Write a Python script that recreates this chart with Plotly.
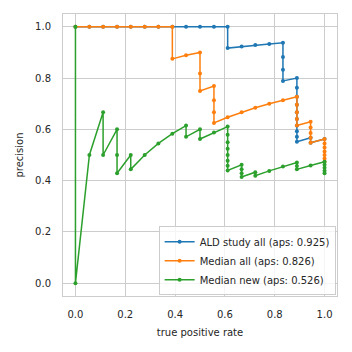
import plotly.graph_objects as go

# ALD study all
ald_recall = [0.0, 0.056, 0.111, 0.167, 0.222, 0.278, 0.333, 0.389, 0.444, 0.5, 0.556, 0.611,
              0.611, 0.667, 0.722, 0.778, 0.833, 0.833, 0.833, 0.833, 0.889,
              0.889, 0.889, 0.889, 0.889, 0.889, 0.889, 0.889, 0.889, 0.889,
              0.944, 0.944, 1.0]
ald_precision = [1.0, 1.0, 1.0, 1.0, 1.0, 1.0, 1.0, 1.0, 1.0, 1.0, 1.0, 1.0,
                 0.917, 0.923, 0.929, 0.933, 0.9375, 0.882, 0.833, 0.789, 0.8,
                 0.762, 0.727, 0.696, 0.667, 0.64, 0.615, 0.593, 0.571, 0.552,
                 0.567, 0.548, 0.5625]

# Median all
med_all_recall = [0.0, 0.056, 0.111, 0.167, 0.222, 0.278, 0.333, 0.389, 0.389, 0.444, 0.5, 0.5, 0.5,
                  0.556, 0.556, 0.556, 0.556, 0.611, 0.667, 0.722, 0.778, 0.833, 0.889,
                  0.889, 0.889, 0.889, 0.889, 0.944, 0.944, 0.944, 0.944, 0.944,
                  1.0, 1.0, 1.0, 1.0, 1.0, 1.0, 1.0]
med_all_precision = [1.0, 1.0, 1.0, 1.0, 1.0, 1.0, 1.0, 1.0, 0.875, 0.889, 0.9, 0.818, 0.75,
                     0.769, 0.714, 0.667, 0.625, 0.647, 0.667, 0.684, 0.7, 0.714, 0.727,
                     0.696, 0.667, 0.64, 0.615, 0.63, 0.607, 0.586, 0.567, 0.548,
                     0.5625, 0.545, 0.529, 0.514, 0.5, 0.486, 0.474]

# Median new
med_new_recall = [0.0, 0.0, 0.056, 0.111, 0.111, 0.167, 0.167, 0.167, 0.222, 0.222, 0.278, 0.333,
                  0.389, 0.444, 0.444, 0.5, 0.5, 0.556, 0.611,
                  0.611, 0.611, 0.611, 0.611, 0.611, 0.611, 0.611,
                  0.667, 0.667, 0.667, 0.667, 0.722, 0.722, 0.778, 0.833, 0.889, 0.889, 0.889,
                  0.944, 1.0, 1.0, 1.0, 1.0, 1.0]
med_new_precision = [1.0, 0.0, 0.5, 0.667, 0.5, 0.6, 0.5, 0.429, 0.5, 0.444, 0.5, 0.545,
                     0.583, 0.615, 0.571, 0.6, 0.5625, 0.588, 0.611,
                     0.579, 0.55, 0.524, 0.5, 0.478, 0.458, 0.44,
                     0.462, 0.444, 0.429, 0.414, 0.433, 0.419, 0.438, 0.455, 0.471, 0.457, 0.444,
                     0.459, 0.474, 0.462, 0.45, 0.439, 0.429]

names = ["ALD study all (aps: 0.925)", "Median all (aps: 0.826)", "Median new (aps: 0.526)"]
colors = ["#1f77b4", "#ff7f0e", "#2ca02c"]
series = [(ald_recall, ald_precision), (med_all_recall, med_all_precision),
          (med_new_recall, med_new_precision)]

fig = go.Figure()
for (xs, ys), name, c in zip(series, names, colors):
    fig.add_trace(go.Scatter(x=xs, y=ys, mode="lines+markers", name=name,
                             line=dict(color=c, width=1.5),
                             marker=dict(color=c, size=4)))

font = "DejaVu Sans"
txt = "#262626"
fig.update_layout(
    width=352, height=352,
    margin=dict(l=63, r=15, t=14, b=56),
    paper_bgcolor="white", plot_bgcolor="white",
    font=dict(family=font, size=10, color=txt),
    showlegend=True,
    legend=dict(x=0.995, y=0.003, xanchor="right", yanchor="bottom",
                bgcolor="rgba(255,255,255,0.8)", bordercolor="#cccccc", borderwidth=1,
                font=dict(size=10, color=txt), itemwidth=30, tracegroupgap=0),
)
axis_common = dict(showgrid=True, gridcolor="#cccccc", gridwidth=1, zeroline=False,
                   showline=True, linecolor="#cccccc", linewidth=1, mirror=True,
                   ticks="", tickfont=dict(size=10, color=txt), tickformat=".1f",
                   tickvals=[0, 0.2, 0.4, 0.6, 0.8, 1.0], ticklabelstandoff=9)
fig.update_xaxes(range=[-0.05, 1.05], title=dict(text="true positive rate", standoff=9,
                 font=dict(size=10, color=txt)), **axis_common)
fig.update_yaxes(range=[-0.05, 1.05], title=dict(text="precision", standoff=9,
                 font=dict(size=10, color=txt)), **axis_common)

fig.write_html("out.html")
